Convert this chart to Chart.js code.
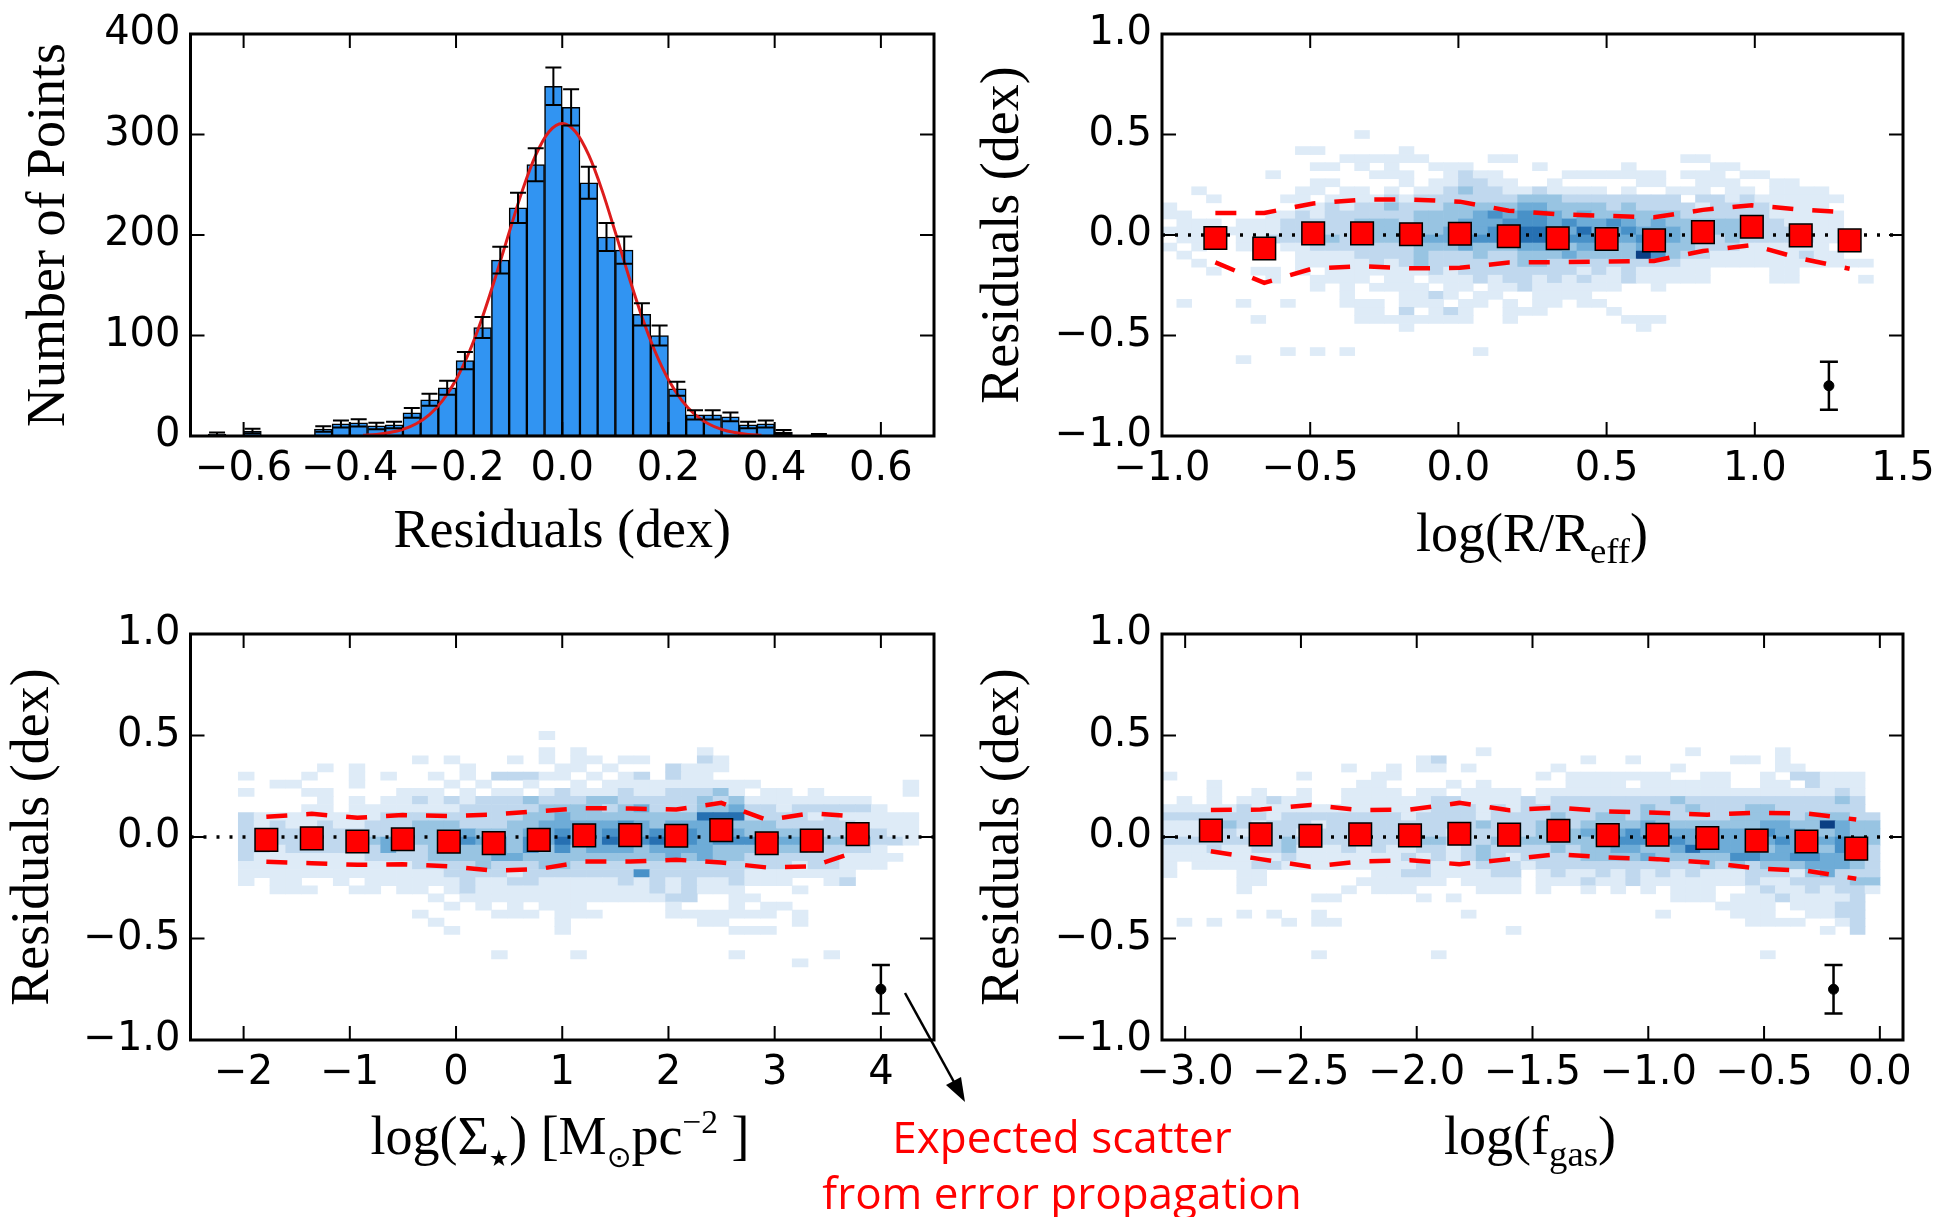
<!DOCTYPE html>
<html><head><meta charset="utf-8"><title>Residuals</title>
<script src="https://cdn.jsdelivr.net/npm/chart.js"></script>
<style>
html,body{margin:0;padding:0;background:#fff;}
#page{position:relative;width:1953px;height:1217px;overflow:hidden;background:#fff;}
#page canvas{position:absolute;}
.xt{position:absolute;font-family:'Liberation Serif','Times New Roman',serif;font-size:54px;line-height:54px;height:54px;white-space:nowrap;transform:translateX(-50%);color:#000;}
.xt .sb{font-size:0.68em;position:relative;top:0.32em;}
.xt .st{font-family:'DejaVu Sans',sans-serif;font-size:0.42em;position:relative;top:0.55em;}
.xt .so{font-family:'DejaVu Sans',sans-serif;font-size:0.55em;position:relative;top:0.45em;}
.xt .sp{font-size:0.62em;position:relative;top:-0.62em;}
#note{position:absolute;left:1062px;top:1108px;transform:translateX(-50%);font-family:'Open Sans',sans-serif;font-size:44px;line-height:56px;color:#ff0000;text-align:center;white-space:nowrap;}
#arrow{position:absolute;left:0;top:0;pointer-events:none;}
</style></head>
<body><div id="page">
<canvas id="cTL" width="976" height="600" style="left:0px;top:0px"></canvas>
<canvas id="cTR" width="993" height="600" style="left:960px;top:0px"></canvas>
<canvas id="cBL" width="976" height="617" style="left:0px;top:600px"></canvas>
<canvas id="cBR" width="993" height="617" style="left:960px;top:600px"></canvas>
<div class="xt" style="left:1532px;top:506px">log(R/R<span class="sb">eff</span>)</div>
<div class="xt" style="left:560px;top:1109px">log(Σ<span class="st">★</span>) [M<span class="so">⊙</span>pc<span class="sp">−2</span> ]</div>
<div class="xt" style="left:1530px;top:1109px">log(f<span class="sb">gas</span>)</div>
<div id="note">Expected scatter<br>from error propagation</div>
<svg id="arrow" width="1953" height="1217">
<line x1="905" y1="993" x2="954" y2="1082" stroke="#000" stroke-width="2.5"/>
<polygon points="965,1102 946,1085 961,1077" fill="#000"/>
</svg>
</div>
<script>
// ---------------- DATA ----------------
// Histogram of residuals (top-left)
const histXRange = [-0.7, 0.7];
const histYRange = [0, 400];
const histXTicks = [-0.6, -0.4, -0.2, 0, 0.2, 0.4, 0.6];
const histYTicks = [0, 100, 200, 300, 400];
const histBinCenters = [-0.65, -0.5833, -0.45, -0.4167, -0.3833, -0.35, -0.3167, -0.2833, -0.25, -0.2167, -0.1833, -0.15, -0.1167, -0.0833, -0.05, -0.0167, 0.0167, 0.05, 0.0833, 0.1167, 0.15, 0.1833, 0.2167, 0.25, 0.2833, 0.3167, 0.35, 0.3833, 0.4167, 0.4833];
const histCounts = [2, 5, 7, 12, 13, 10, 11, 23, 36, 48, 75, 108, 175, 227, 270, 348, 327, 252, 198, 185, 121, 100, 47, 21, 21, 19, 11, 12, 4, 1];
const histErrors = [1.4, 2.2, 2.7, 3.5, 3.6, 3.2, 3.3, 4.8, 6, 7, 8.7, 10.4, 13.2, 15, 16.4, 18.6, 18, 15.9, 14, 13.6, 11, 10, 6.9, 4.6, 4.6, 4.4, 3.3, 3.5, 2, 1];
const fitX = [-0.375, -0.35, -0.325, -0.3, -0.275, -0.25, -0.225, -0.2, -0.175, -0.15, -0.125, -0.1, -0.075, -0.05, -0.025, 0, 0.025, 0.05, 0.075, 0.1, 0.125, 0.15, 0.175, 0.2, 0.225, 0.25, 0.275, 0.3, 0.325, 0.35, 0.375];
const fitY = [0.8, 1.6, 3.4, 6.6, 12.2, 21.3, 35.5, 56, 83.8, 118.7, 159.3, 202.6, 244.4, 279.4, 302.8, 311, 302.8, 279.4, 244.4, 202.6, 159.3, 118.7, 83.8, 56, 35.5, 21.3, 12.2, 6.6, 3.4, 1.6, 0.8];

// Residual panels: common y axis
const resYRange = [-1, 1];
const resYTicks = [-1, -0.5, 0, 0.5, 1];

// log(R/Reff) panel (top-right)
const rReffRange = [-1, 1.5];
const rReffTicks = [-1, -0.5, 0, 0.5, 1, 1.5];
const rReffX = [-0.82, -0.655, -0.49, -0.325, -0.16, 0.005, 0.17, 0.335, 0.5, 0.66, 0.825, 0.99, 1.155, 1.32];
const rReffMedian = [-0.015, -0.067, 0.008, 0.008, 0.004, 0.006, -0.006, -0.016, -0.02, -0.027, 0.014, 0.041, -0.002, -0.027];
const rReffUpper = [0.11, 0.11, 0.157, 0.176, 0.176, 0.166, 0.121, 0.103, 0.095, 0.088, 0.125, 0.148, 0.126, 0.112];
const rReffLower = [-0.136, -0.238, -0.166, -0.155, -0.166, -0.163, -0.137, -0.135, -0.132, -0.129, -0.08, -0.05, -0.117, -0.168];
const rReffScatter = [1.25, -0.75, 0.12];   // x, y, half-length of expected scatter bar
const rReffGrid = {x0: -1.0, dx: 0.05, yTop: 0.52, dy: 0.04, rows: [
".......... ...1",
"",
".........1 1.....1",
".......... ..111111.. ..11...... .....11",
".......... 11.1.1..11 1....1.... .1.....11",
".......1.. ....111..1 211....111 1111.111.1 1",
".......... 11....1.11 2211..1... ..11..111. .11",
"..1......1 1.11.1.112 3221121111 .1..111.11 .1111",
"...1....11 .111121222 2222333222 22222.2212 111111",
"1........1 1212232223 3333443333 2322221222 21111",
"11.....112 1222222333 3454554343 3333322222 211111",
".111.11122 2223332333 4445554544 5434333332 221111",
"1111111122 2223333334 4455665464 4544433332 222111",
".111.11222 3323333444 5555665555 4455433232 2222111",
"1.1..11.11 2222222333 4333444344 3344332221 11111",
".1.......1 1112222322 2322333433 3375322111 111211",
"..1......1 1111212322 2222332222 2222211111 11111111",
"...1..11.1 .111111121 2222222212 1211111... .11",
".......1.. 1111.11.11 1212212121 1211111... .11....1",
".......... 1.1.1111.1 1.11211111 1..1",
".......... ..1...1121 .11..1111",
".1...1..1. ..111.111. 11.1.11.11",
".......... ...11.2.12 1..111.... 1",
"......1... ...1111111 1..1...... .111",
".......... ......1... .......... ..1",
"", "",
"........1. 1.1....... .1",
".....1"
]};

// log(Sigma*) panel (bottom-left)
const sigmaRange = [-2.5, 4.5];
const sigmaTicks = [-2, -1, 0, 1, 2, 3, 4];
const sigmaX = [-1.786, -1.358, -0.929, -0.501, -0.068, 0.355, 0.779, 1.207, 1.64, 2.073, 2.497, 2.925, 3.349, 3.781];
const sigmaMedian = [-0.014, -0.007, -0.022, -0.011, -0.023, -0.03, -0.014, 0.008, 0.009, 0.006, 0.034, -0.031, -0.018, 0.014];
const sigmaUpper = [0.1, 0.114, 0.095, 0.108, 0.103, 0.111, 0.127, 0.142, 0.14, 0.135, 0.168, 0.084, 0.117, 0.1];
const sigmaLower = [-0.122, -0.129, -0.137, -0.134, -0.145, -0.166, -0.158, -0.121, -0.121, -0.112, -0.126, -0.15, -0.145, -0.07];
const sigmaScatter = [4.0, -0.75, 0.12];
const sigmaGrid = {x0: -2.05, dx: 0.149, yTop: 0.52, dy: 0.04, rows: [
".......... .........1",
"",
".......... .........1 .1.......1",
".......... .1.1...1.1 .11.11...2 1",
".....1.1.. ....1..... 11.1...211 1",
"1...1..1.1 ..1.1.2221 1.1.12.211",
"..11...1.. ...1.1..1. .1.1111111 111....... ..1",
"1...11.... 111.1.11.1 2111211222 31.11.1... ..1",
".....1.1.1 1212122232 2233222223 2311111111",
"....11.111 1111222223 3332342223 3422122222 1",
"2111111112 2222222233 4333333336 6622221211 111",
"2121121122 2333222334 4444543444 4333222221 111",
"2222222222 2333433344 5445545654 4433333222 211",
"2222222234 3333544354 6446556654 5553443333 221",
"2212222224 2233334353 5344434444 3333332222 1",
"2111111122 2233334433 3333333434 3322222211 11",
"1111111111 1222232223 3222222222 2222212211 1",
"1111111111 1112222122 2222252222 221111111.",
"1.11..1.11 1111211221 1111212121 12111..12.",
"..111..11. 11.1211111 1111112121 11...1",
".......... ..1.111111 111111122. .11",
".......... ...1.1.1.1 11.....1.. .1.11",
".......... .1....111. 111....111 1111.1",
".......... ..1....... 1........1 1....1",
".......... ...1...... 1......... .111",
"", "",
".......... ......1... .1........ .1.....1",
".......... .......... .......... .....1"
]};

// log(f_gas) panel (bottom-right)
const fgasRange = [-3.1, 0.1];
const fgasTicks = [-3, -2.5, -2, -1.5, -1, -0.5, 0];
const fgasX = [-2.889, -2.674, -2.459, -2.244, -2.029, -1.816, -1.601, -1.388, -1.175, -0.96, -0.745, -0.532, -0.317, -0.102];
const fgasMedian = [0.032, 0.013, 0.006, 0.013, 0.008, 0.016, 0.012, 0.031, 0.009, 0.011, -0.005, -0.018, -0.022, -0.057];
const fgasUpper = [0.133, 0.135, 0.158, 0.132, 0.135, 0.168, 0.132, 0.145, 0.126, 0.12, 0.11, 0.119, 0.116, 0.086];
const fgasLower = [-0.07, -0.109, -0.146, -0.121, -0.114, -0.134, -0.109, -0.085, -0.101, -0.109, -0.126, -0.155, -0.166, -0.206];
const fgasScatter = [-0.2, -0.75, 0.12];
const fgasGrid = {x0: -3.1, dx: 0.0646, yTop: 0.44, dy: 0.04, rows: [
".......... .......... .1........ .....1.... .1",
".......... .......12. ........1. .1......11 .1",
".......... ..1..1.11. 1.....1... ....1..... .11",
"1........1 ....11.... .....1.111 1111..11.. 1.22111",
"...1...... ...11....1 .1.....111 1.111111.. 11.2111",
"...1..1..1 ..1111.11. 1111.11111 1111111111 1111121",
".1.1.11211 ..11111122 1111212222 2222322222 2222232",
"1111121111 1111111122 2121222222 2232232223 3222222",
"2222222122 2222221222 2122223223 3233222233 33233322",
"1111321222 1222222222 2322233233 3343333333 44337433",
"1111212221 2222222221 2222234343 4544444444 54433433",
"2222222232 2222222332 2232333334 5555544444 45444543",
"1112112231 1121211221 2322223233 4433464443 34433542",
"1111111121 1111112121 2321222233 3343333355 44554442",
"1.11112211 1111111211 1222122222 2222223232 33344432",
"1....11... ....112211 1122.12112 1212121112 22134222",
".....11... ...111111. 1111.11121 1211111112 11222233",
".....1.... ..1.111... .111.1..1. 1.1.111..1 21121221",
".......... 11.....1.1 .......... ....111.11 1211112",
".......... .......... .......... .......111 1.11122",
".....1.1.. 1......... 1......... ...1....11 1..1122",
".1.1....1. 11........ .......... .........1 111..12",
".......... .......... ...1...... .......... ....1.2",
"", "",
".......... 1.......1. .......... .......... 1"
]};

// ---------------- STYLE / HELPERS ----------------
const heatPalette = [null, '#deebf7', '#c0d8ee', '#98c4e2', '#6eacd7', '#4891c8', '#2670b2', '#0a3f84'];
const SANS = "'DejaVu Sans', sans-serif";
const SERIF = "'Liberation Serif', 'Times New Roman', serif";
Chart.defaults.font.family = SANS;
Chart.defaults.color = '#000';

function fmt(v, dec) {
  if (Math.abs(v) < 1e-9) v = 0;
  const s = Math.abs(v).toFixed(dec);
  return v < 0 ? '\u2212' + s : s;
}

function gridCells(g) {
  const out = [];
  g.rows.forEach((row, r) => {
    const s = row.replace(/ /g, '');
    const yHi = g.yTop - r * g.dy, yLo = yHi - g.dy;
    for (let c = 0; c < s.length; c++) {
      const v = s.charCodeAt(c) - 48;
      if (v > 0 && v < 10) out.push({x: g.x0 + (c + 0.5) * g.dx, y: [yLo, yHi], v: v});
    }
  });
  return out;
}

const framePlugin = {
  id: 'frame',
  afterDraw(chart) {
    const {ctx, chartArea: a} = chart;
    const xs = chart.scales.x, ys = chart.scales.y;
    const L = 14;
    ctx.save();
    ctx.strokeStyle = '#000';
    ctx.lineWidth = 2;
    ctx.beginPath();
    xs.ticks.forEach(t => {
      const p = xs.getPixelForValue(t.value);
      ctx.moveTo(p, a.bottom); ctx.lineTo(p, a.bottom - L);
      ctx.moveTo(p, a.top); ctx.lineTo(p, a.top + L);
    });
    ys.ticks.forEach(t => {
      const p = ys.getPixelForValue(t.value);
      ctx.moveTo(a.left, p); ctx.lineTo(a.left + L, p);
      ctx.moveTo(a.right, p); ctx.lineTo(a.right - L, p);
    });
    ctx.stroke();
    ctx.lineWidth = 3;
    ctx.strokeRect(a.left, a.top, a.right - a.left, a.bottom - a.top);
    ctx.restore();
  }
};

function errBarPlugin(xv, yv, ev, cap, lw) {
  return {
    id: 'errbars',
    afterDatasetsDraw(chart) {
      const {ctx} = chart;
      const xs = chart.scales.x, ys = chart.scales.y;
      ctx.save();
      ctx.strokeStyle = '#000';
      ctx.lineWidth = lw;
      ctx.beginPath();
      xv.forEach((x, i) => {
        const px = xs.getPixelForValue(x);
        const lo = ys.getPixelForValue(yv[i] - ev[i]);
        const hi = ys.getPixelForValue(yv[i] + ev[i]);
        ctx.moveTo(px, lo); ctx.lineTo(px, hi);
        ctx.moveTo(px - cap, lo); ctx.lineTo(px + cap, lo);
        ctx.moveTo(px - cap, hi); ctx.lineTo(px + cap, hi);
      });
      ctx.stroke();
      ctx.restore();
    }
  };
}

function xScale(range, ticksArr, dec, height, title) {
  const s = {
    type: 'linear', position: 'bottom', min: range[0], max: range[1], bounds: 'data', offset: false,
    grid: {display: false, drawTicks: false}, border: {display: false},
    afterBuildTicks: sc => { sc.ticks = ticksArr.map(v => ({value: v})); },
    afterFit: sc => { sc.height = height; },
    ticks: {autoSkip: false, maxRotation: 0, minRotation: 0, padding: 10, color: '#000',
      font: {family: SANS, size: 40, lineHeight: 1.2}, callback: v => fmt(v, dec)}
  };
  if (title) s.title = {display: true, text: title, color: '#000',
    font: {family: SERIF, size: 54, lineHeight: 1}, padding: {top: 0, bottom: 40}};
  return s;
}

function yScale(range, ticksArr, dec, width, title, titlePad) {
  return {
    type: 'linear', position: 'left', min: range[0], max: range[1], bounds: 'data',
    grid: {display: false, drawTicks: false}, border: {display: false},
    afterBuildTicks: sc => { sc.ticks = ticksArr.map(v => ({value: v})); },
    afterFit: sc => { sc.width = width; },
    ticks: {autoSkip: false, padding: 10, color: '#000',
      font: {family: SANS, size: 40, lineHeight: 1.2}, callback: v => fmt(v, dec)},
    title: {display: true, text: title, color: '#000',
      font: {family: SERIF, size: 54, lineHeight: 1}, padding: {top: titlePad, bottom: 0}}
  };
}

const baseOpts = {responsive: false, animation: false, devicePixelRatio: 1, events: []};

// ---------------- HISTOGRAM ----------------
new Chart(document.getElementById('cTL'), {
  type: 'bar',
  data: {datasets: [
    {type: 'bar', data: histBinCenters.map((x, i) => ({x: x, y: histCounts[i]})),
     backgroundColor: '#3194f2', borderColor: '#000', borderWidth: 1.5, borderSkipped: false,
     barPercentage: 1, categoryPercentage: 1, grouped: false, order: 3},
    {type: 'line', data: fitX.map((x, i) => ({x: x, y: fitY[i]})),
     borderColor: '#dd1c1c', borderWidth: 3, pointRadius: 0, cubicInterpolationMode: 'monotone', fill: false, order: 1}
  ]},
  options: Object.assign({}, baseOpts, {
    layout: {padding: {left: 0, top: 27, right: 42, bottom: 0}},
    plugins: {legend: {display: false}, tooltip: {enabled: false}},
    scales: {
      x: xScale(histXRange, histXTicks, 1, 164, 'Residuals (dex)'),
      y: yScale(histYRange, histYTicks, 0, 190.5, 'Number of Points', 23)
    }
  }),
  plugins: [errBarPlugin(histBinCenters, histCounts, histErrors, 8, 2), framePlugin]
});

// ---------------- RESIDUAL PANELS ----------------
function residualChart(id, cfg) {
  return new Chart(document.getElementById(id), {
    type: 'bar',
    data: {datasets: [
      {type: 'bar', data: gridCells(cfg.grid),
       backgroundColor: c => heatPalette[c.raw ? c.raw.v : 1], borderWidth: 0,
       barPercentage: 1, categoryPercentage: 1, grouped: false, order: 5},
      {type: 'line', data: [{x: cfg.xRange[0], y: 0}, {x: cfg.xRange[1], y: 0}],
       borderColor: '#000', borderWidth: 3.5, borderDash: [3, 10], pointRadius: 0, fill: false, order: 4},
      {type: 'line', data: cfg.x.map((x, i) => ({x: x, y: cfg.upper[i]})),
       borderColor: '#ff0000', borderWidth: 4.5, borderDash: [21, 19], pointRadius: 0, fill: false, order: 3},
      {type: 'line', data: cfg.x.map((x, i) => ({x: x, y: cfg.lower[i]})),
       borderColor: '#ff0000', borderWidth: 4.5, borderDash: [21, 19], pointRadius: 0, fill: false, order: 3},
      {type: 'scatter', data: cfg.x.map((x, i) => ({x: x, y: cfg.median[i]})),
       pointStyle: 'rect', pointRadius: 16, backgroundColor: '#ff0000', borderColor: '#000', borderWidth: 1.5, order: 1},
      {type: 'scatter', data: [{x: cfg.marker[0], y: cfg.marker[1]}],
       pointStyle: 'circle', pointRadius: 5, backgroundColor: '#000', borderColor: '#000', borderWidth: 1, order: 0}
    ]},
    options: Object.assign({}, baseOpts, {
      layout: {padding: {left: 0, top: cfg.padTop, right: cfg.padRight, bottom: 0}},
      plugins: {legend: {display: false}, tooltip: {enabled: false}},
      scales: {
        x: xScale(cfg.xRange, cfg.xTicks, cfg.xDec, cfg.xHeight, null),
        y: yScale(resYRange, resYTicks, 1, cfg.yWidth, 'Residuals (dex)', cfg.yTitlePad)
      }
    }),
    plugins: [errBarPlugin([cfg.marker[0]], [cfg.marker[1]], [cfg.marker[2]], 9, 2.5), framePlugin]
  });
}

residualChart('cTR', {grid: rReffGrid, x: rReffX, median: rReffMedian, upper: rReffUpper, lower: rReffLower,
  marker: rReffScatter, xRange: rReffRange, xTicks: rReffTicks, xDec: 1,
  padTop: 27, padRight: 50, xHeight: 164, yWidth: 202, yTitlePad: 17});
residualChart('cBL', {grid: sigmaGrid, x: sigmaX, median: sigmaMedian, upper: sigmaUpper, lower: sigmaLower,
  marker: sigmaScatter, xRange: sigmaRange, xTicks: sigmaTicks, xDec: 0,
  padTop: 31, padRight: 42, xHeight: 177, yWidth: 190.5, yTitlePad: 7});
residualChart('cBR', {grid: fgasGrid, x: fgasX, median: fgasMedian, upper: fgasUpper, lower: fgasLower,
  marker: fgasScatter, xRange: fgasRange, xTicks: fgasTicks, xDec: 1,
  padTop: 31, padRight: 50, xHeight: 177, yWidth: 202, yTitlePad: 17});
</script>
</body></html>
